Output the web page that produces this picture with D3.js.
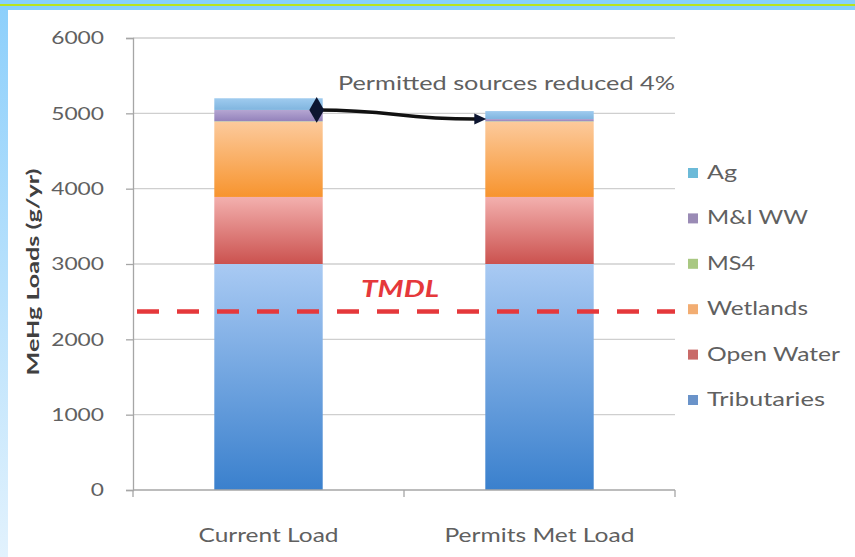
<!DOCTYPE html>
<html>
<head>
<meta charset="utf-8">
<script src="https://cdn.jsdelivr.net/npm/d3@7"></script>
<style>
  html, body { margin: 0; padding: 0; background: #ffffff; }
  svg { display: block; }
  text { font-family: Lato, "Open Sans", sans-serif; }
</style>
</head>
<body>
<svg id="chart" width="855" height="557"></svg>
<script>
// Mercury load categories and stacked source contributions (g/yr)
const categories = ["Current Load", "Permits Met Load"];
const seriesKeys = ["Tributaries", "Open Water", "Wetlands", "MS4", "M&I WW", "Ag"];
const tributaries = [3000, 3000];
const openWater   = [890, 890];
const wetlands    = [1000, 1000];
const ms4         = [5, 5];
const miWW        = [150, 30];
const ag          = [155, 105];

const yTickValues = [0, 1000, 2000, 3000, 4000, 5000, 6000];
const tmdlValue = 2370;
const tmdlLabel = "TMDL";
const yTitle = "MeHg Loads (g/yr)";
const noteText = "Permitted sources reduced 4%";

// Fill gradients (top, bottom) and legend swatch colours per series
const seriesStyle = {
  "Tributaries": { top: "#a9caf3", bottom: "#3a80cd", swatch: "#6a93c9" },
  "Open Water":  { top: "#f3b0ae", bottom: "#cb524f", swatch: "#c96a68" },
  "Wetlands":    { top: "#fcca9c", bottom: "#f7942e", swatch: "#f2ad72" },
  "MS4":         { top: "#c4dc9a", bottom: "#9bbb59", swatch: "#a9c882" },
  "M&I WW":      { top: "#b5a6d2", bottom: "#9382bb", swatch: "#9a8bb5" },
  "Ag":          { top: "#9fcbef", bottom: "#80b5df", swatch: "#6cbad8" }
};

const rows = categories.map((c, i) => ({
  category: c,
  "Tributaries": tributaries[i],
  "Open Water": openWater[i],
  "Wetlands": wetlands[i],
  "MS4": ms4[i],
  "M&I WW": miWW[i],
  "Ag": ag[i]
}));

const svg = d3.select("#chart");
const W = 855, H = 557;

// Page frame: blue header band with a lime rule, and a fading blue left edge
const defs = svg.append("defs");
const edgeGrad = defs.append("linearGradient").attr("id", "edgeGrad")
  .attr("x1", 0).attr("y1", 0).attr("x2", 0).attr("y2", 1);
edgeGrad.append("stop").attr("offset", "0%").attr("stop-color", "#8ccffb");
edgeGrad.append("stop").attr("offset", "100%").attr("stop-color", "#e2f2fd");

svg.append("rect").attr("x", 0).attr("y", 0).attr("width", W).attr("height", H).attr("fill", "#ffffff");
svg.append("rect").attr("x", 0).attr("y", 0).attr("width", 8).attr("height", H).attr("fill", "url(#edgeGrad)");
svg.append("rect").attr("x", 0).attr("y", 0).attr("width", W).attr("height", 10).attr("fill", "#86d0fb");
svg.append("rect").attr("x", 0).attr("y", 4).attr("width", W).attr("height", 2).attr("fill", "#b9e31c");

// Plot area
const plot = { left: 133, right: 675, top: 38, bottom: 490 };

const x = d3.scaleBand()
  .domain(categories)
  .range([plot.left, plot.right])
  .paddingInner(0.6)
  .paddingOuter(0.3);

const y = d3.scaleLinear()
  .domain([0, 6000])
  .range([plot.bottom, plot.top]);

// Gridlines
svg.append("g")
  .selectAll("line")
  .data(yTickValues.filter(v => v > 0))
  .join("line")
  .attr("x1", plot.left).attr("x2", plot.right)
  .attr("y1", d => y(d)).attr("y2", d => y(d))
  .attr("stroke", "#cfcfcf").attr("stroke-width", 1.3);

// Series gradients
seriesKeys.forEach((k, i) => {
  const g = defs.append("linearGradient").attr("id", "grad" + i)
    .attr("x1", 0).attr("y1", 0).attr("x2", 0).attr("y2", 1);
  g.append("stop").attr("offset", "0%").attr("stop-color", seriesStyle[k].top);
  g.append("stop").attr("offset", "100%").attr("stop-color", seriesStyle[k].bottom);
});

// Stacked bars
const stacked = d3.stack().keys(seriesKeys)(rows);

svg.append("g")
  .selectAll("g")
  .data(stacked)
  .join("g")
  .attr("fill", (d, i) => "url(#grad" + i + ")")
  .selectAll("rect")
  .data(d => d)
  .join("rect")
  .attr("x", d => x(d.data.category))
  .attr("width", x.bandwidth())
  .attr("y", d => y(d[1]))
  .attr("height", d => y(d[0]) - y(d[1]));

// Y axis
const yAxis = d3.axisLeft(y)
  .tickValues(yTickValues)
  .tickSize(7)
  .tickPadding(22)
  .tickFormat(d3.format("d"));

const yAxisG = svg.append("g")
  .attr("transform", `translate(${plot.left},0)`)
  .call(yAxis);
yAxisG.select(".domain").attr("stroke", "#a6a6a6").attr("stroke-width", 1.3);
yAxisG.selectAll(".tick line").attr("stroke", "#a6a6a6").attr("stroke-width", 1.3);
yAxisG.selectAll(".tick text")
  .attr("fill", "#606060")
  .style("font-size", "18px")
  .attr("textLength", d => String(d).length * 13.2)
  .attr("lengthAdjust", "spacingAndGlyphs");

// X axis (ticks sit between categories)
const xAxisG = svg.append("g")
  .attr("transform", `translate(0,${plot.bottom})`);
xAxisG.append("line")
  .attr("x1", plot.left).attr("x2", plot.right)
  .attr("y1", 0).attr("y2", 0)
  .attr("stroke", "#a6a6a6").attr("stroke-width", 1.3);
const betweenTicks = [plot.left, (x(categories[0]) + x.bandwidth() + x(categories[1])) / 2, plot.right];
xAxisG.selectAll("line.tk")
  .data(betweenTicks)
  .join("line")
  .attr("class", "tk")
  .attr("x1", d => d).attr("x2", d => d)
  .attr("y1", 0).attr("y2", 7)
  .attr("stroke", "#a6a6a6").attr("stroke-width", 1.3);

const xLabelWidths = { "Current Load": 140, "Permits Met Load": 190 };
xAxisG.selectAll("text.cat")
  .data(categories)
  .join("text")
  .attr("class", "cat")
  .attr("x", d => x(d) + x.bandwidth() / 2)
  .attr("y", 52)
  .attr("text-anchor", "middle")
  .attr("fill", "#606060")
  .style("font-size", "20px")
  .attr("textLength", d => xLabelWidths[d])
  .attr("lengthAdjust", "spacingAndGlyphs")
  .text(d => d);

// Y axis title
svg.append("text")
  .attr("transform", `translate(39,${(plot.top + plot.bottom) / 2 + 8}) rotate(-90)`)
  .attr("text-anchor", "middle")
  .attr("fill", "#404040")
  .style("font-size", "17px")
  .style("font-weight", "bold")
  .attr("textLength", 207)
  .attr("lengthAdjust", "spacingAndGlyphs")
  .text(yTitle);

// TMDL target line and label
svg.append("line")
  .attr("x1", plot.left).attr("x2", plot.right)
  .attr("y1", y(tmdlValue)).attr("y2", y(tmdlValue))
  .attr("stroke", "#e5383b")
  .attr("stroke-width", 4.5)
  .attr("stroke-dasharray", "22 18")
  .attr("stroke-dashoffset", 36);

svg.append("text")
  .attr("x", 400)
  .attr("y", y(tmdlValue) - 14)
  .attr("text-anchor", "middle")
  .attr("fill", "#e5383b")
  .style("font-size", "22px")
  .style("font-weight", "bold")
  .style("font-style", "italic")
  .attr("textLength", 78)
  .attr("lengthAdjust", "spacingAndGlyphs")
  .text(tmdlLabel);

// Permitted-source change: link between the M&I WW tops of the two bars
const permittedTop = rows.map(r => r["Tributaries"] + r["Open Water"] + r["Wetlands"] + r["MS4"] + r["M&I WW"]);
const startPt = [x(categories[0]) + x.bandwidth() - 6, y(permittedTop[0])];
const endPt = [x(categories[1]) - 10, y(permittedTop[1])];

svg.append("path")
  .attr("d", d3.linkHorizontal()({ source: startPt, target: endPt }))
  .attr("fill", "none")
  .attr("stroke", "#111111")
  .attr("stroke-width", 3.4);

svg.append("path")
  .attr("d", d3.symbol().type(d3.symbolDiamond).size(190)())
  .attr("transform", `translate(${startPt[0]},${startPt[1]})`)
  .attr("fill", "#0d1530");
svg.append("circle")
  .attr("cx", startPt[0]).attr("cy", startPt[1])
  .attr("r", 5.5)
  .attr("fill", "#0d1530");

const tip = [x(categories[1]) + 1, endPt[1]];
svg.append("path")
  .attr("d", `M${tip[0]},${tip[1]} L${tip[0] - 12},${tip[1] - 5.5} L${tip[0] - 12},${tip[1] + 5.5} Z`)
  .attr("fill", "#0d1530");

svg.append("text")
  .attr("x", 338)
  .attr("y", 90)
  .attr("fill", "#606060")
  .style("font-size", "19px")
  .attr("textLength", 337)
  .attr("lengthAdjust", "spacingAndGlyphs")
  .text(noteText);

// Legend (top to bottom, reverse of stack order)
const legendKeys = seriesKeys.slice().reverse();
const legendWidths = { "Ag": 30, "M&I WW": 101, "MS4": 48, "Wetlands": 101, "Open Water": 133, "Tributaries": 118 };
const legendY = d3.scalePoint().domain(legendKeys).range([173, 400]);

const legend = svg.append("g")
  .selectAll("g")
  .data(legendKeys)
  .join("g")
  .attr("transform", d => `translate(688,${legendY(d)})`);

legend.append("rect")
  .attr("x", 0).attr("y", -5)
  .attr("width", 10).attr("height", 10)
  .attr("fill", d => seriesStyle[d].swatch);

legend.append("text")
  .attr("x", 19)
  .attr("y", 6)
  .attr("fill", "#606060")
  .style("font-size", "19px")
  .attr("textLength", d => legendWidths[d])
  .attr("lengthAdjust", "spacingAndGlyphs")
  .text(d => d);
</script>
</body>
</html>
